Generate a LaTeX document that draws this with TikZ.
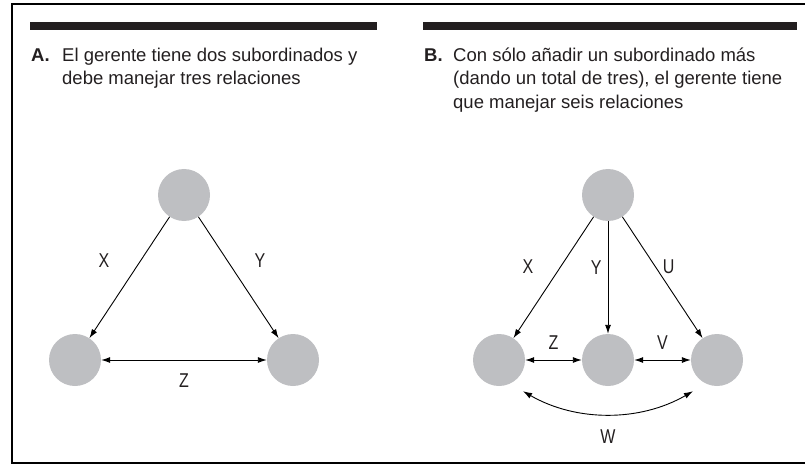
\documentclass[tikz,border=0pt]{standalone}
\usepackage{fontspec}
\setmainfont{Liberation Sans}
\newfontfamily\labelfont{Liberation Sans}[FakeStretch=0.8]
\usepackage{tikz}
\usetikzlibrary{arrows.meta, positioning}
\definecolor{membergray}{RGB}{190,191,194}
\definecolor{barblack}{RGB}{35,31,32}
\tikzstyle{member} = [circle, minimum size=52pt, inner sep=0pt, fill=membergray]
\tikzstyle{arrow} = [line width=0.9pt,-{Latex[length=9pt,width=6pt]}]
\tikzstyle{both} = [line width=0.9pt,{Latex[length=9pt,width=6pt]}-{Latex[length=9pt,width=6pt]}]
\tikzstyle{rel} = [inner sep=0pt, text=barblack, font=\labelfont\fontsize{20}{20}\selectfont]
\tikzstyle{caption} = [inner sep=0pt, anchor=base west, align=left, text=barblack, font=\fontsize{18.5}{23.5}\selectfont]

\begin{document}
\begin{tikzpicture}[x=1pt, y=-1pt, node distance=165pt]
\useasboundingbox (0,0) rectangle (805,465);
% frame and title bars
\draw[line width=2pt] (810,4) -| (12,463) -- (810,463);
\fill[barblack] (30,22) rectangle (377,30);
\fill[barblack] (423,22) rectangle (797,30);

% panel A (text nodes sit on their last baseline)
\node(tagA)[caption] at (31,61.5) {\textbf{A.}};
\node(txtA)[caption] at (62,85) {El gerente tiene dos subordinados y\\debe manejar tres relaciones};
\node(bossA)[member] at (184,195) {};
\node(leftA)[member, below of=bossA, xshift=-109pt] {};
\node(rightA)[member, below of=bossA, xshift=109pt] {};
\draw[arrow] (bossA) -- node[rel, pos=0.36, left=31pt]{X} (leftA);
\draw[arrow] (bossA) -- node[rel, pos=0.36, right=27pt]{Y} (rightA);
\draw[both] (leftA) -- node[rel, below=13pt]{Z} (rightA);

% panel B
\node(tagB)[caption] at (424,61.5) {\textbf{B.}};
\node(txtB)[caption] at (453,108.5) {Con sólo añadir un subordinado más\\(dando un total de tres), el gerente tiene\\que manejar seis relaciones};
\node(bossB)[member] at (608,195) {};
\node(midB)[member, below of=bossB] {};
\node(leftB)[member, below of=bossB, xshift=-109pt] {};
\node(rightB)[member, below of=bossB, xshift=109pt] {};
\draw[arrow] (bossB) -- node[rel, pos=0.41, left=27pt]{X} (leftB);
\draw[arrow] (bossB) -- node[rel, pos=0.41, left=6pt]{Y} (midB);
\draw[arrow] (bossB) -- node[rel, pos=0.41, right=7pt]{U} (rightB);
\draw[both] (leftB) -- node[rel, above=10pt]{Z} (midB);
\draw[both] (midB) -- node[rel, above=10pt]{V} (rightB);
\draw[both, shorten <=15pt, shorten >=15pt] (leftB.-65) to[bend right=30] node[rel, below=17pt]{W} (rightB.-115);

\end{tikzpicture}
\end{document}
